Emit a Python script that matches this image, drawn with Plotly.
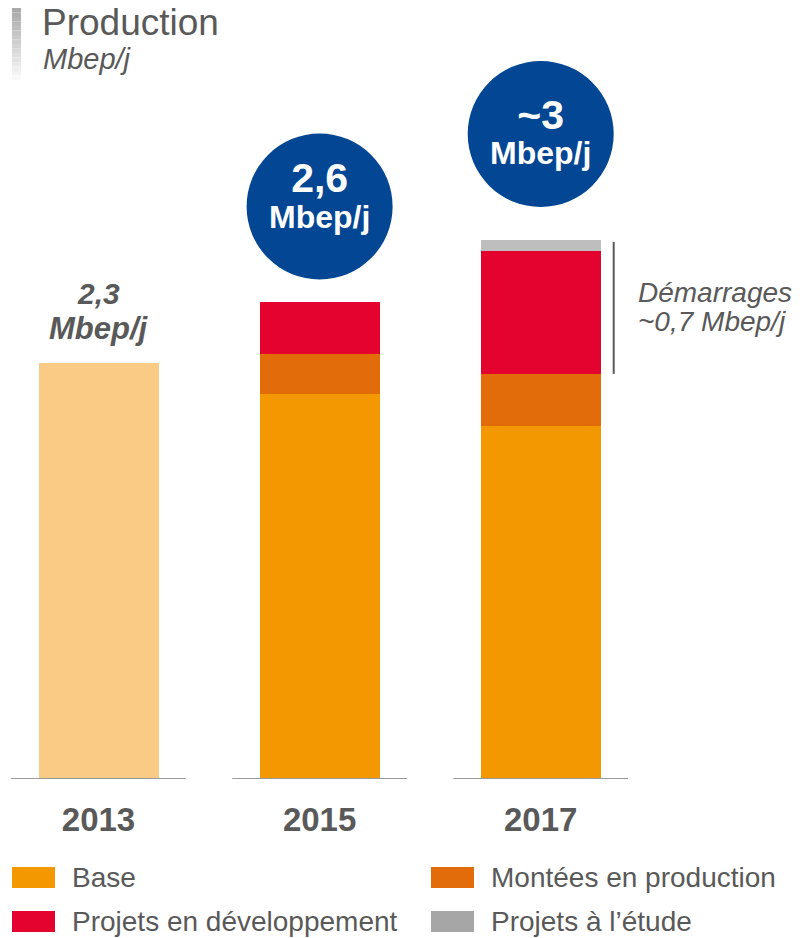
import plotly.graph_objects as go

# ---------------- data ----------------
years = ["2013", "2015", "2017"]
base = [2.30, 2.13, 1.95]
montees = [0.0, 0.22, 0.29]
developpement = [0.0, 0.29, 0.68]
etude = [0.0, 0.0, 0.06]
circle_values = ["", "2,6", "~3"]
label_2013 = "2,3"
unit = "Mbep/j"
demarrages_text = ["Démarrages", "~0,7 Mbep/j"]
legend_names = ["Base", "Montées en production", "Projets en développement", "Projets à l’étude"]

# ---------------- styles ----------------
W, H = 802, 938
PLOT_H = 779            # px height of plot area (baseline at y=779)
C_BASE = "#F39800"
C_BASE_2013 = "#F9CB85"
C_MONTEES = "#E36C0A"
C_DEV = "#E4032E"
C_ETUDE = "#BEBEBE"
C_ETUDE_LEG = "#A6A6A6"
C_BLUE = "#034694"
C_TEXT = "#595959"
FONT = "Liberation Sans, Arial, sans-serif"

PX_PER_UNIT_Y = 180.87
PX_PER_UNIT_X = 221.1
X0_PX = 98.5
xs = list(range(len(years)))
bar_w = 120 / PX_PER_UNIT_X

def px_x(px):
    return px / W

def px_y(py):
    return (PLOT_H - py) / PLOT_H

fig = go.Figure()
base_colors = [C_BASE_2013] + [C_BASE] * (len(years) - 1)
fig.add_trace(go.Bar(x=xs, y=base, marker_color=base_colors, name=legend_names[0], width=bar_w))
fig.add_trace(go.Bar(x=xs, y=montees, marker_color=C_MONTEES, name=legend_names[1], width=bar_w))
fig.add_trace(go.Bar(x=xs, y=developpement, marker_color=C_DEV, name=legend_names[2], width=bar_w))
fig.add_trace(go.Bar(x=xs, y=etude, marker_color=C_ETUDE, name=legend_names[3], width=bar_w))
fig.update_traces(marker_line_width=0, showlegend=False, hoverinfo="skip")

totals = [b + m + d + e for b, m, d, e in zip(base, montees, developpement, etude)]

shapes = []
annotations = []

# baseline segments under each bar
for x in xs:
    shapes.append(dict(type="line", xref="x", yref="y", x0=x - 0.395, x1=x + 0.395, y0=0, y1=0,
                       line=dict(color="#9A9A9A", width=2)))

# circles with totals for 2015 / 2017
# (circle centre offset above bar top, text-block shift inside circle, line-spacing base font)
circle_offsets = [None, 95, 106]
text_shift = [None, 12, 3]
line_font = [None, 28, 27]
for x, t, val, off, ts, lf in zip(xs, totals, circle_values, circle_offsets, text_shift, line_font):
    if not val:
        continue
    shapes.append(dict(type="circle", xref="x", yref="y", xsizemode="pixel", ysizemode="pixel",
                       xanchor=x, yanchor=t, x0=-73, x1=73, y0=off - 73, y1=off + 73,
                       fillcolor=C_BLUE, line=dict(width=0), layer="above"))
    annotations.append(dict(
        x=x, y=t, xref="x", yref="y", yshift=off + ts,
        text=(f"<b><span style='font-size:41px'>{val}</span><br>"
              f"<span style='font-size:32px'>{unit}</span></b>"),
        showarrow=False, font=dict(family=FONT, size=lf, color="white"),
        yanchor="middle", align="center"))

# 2013 label
annotations.append(dict(x=xs[0], y=totals[0], xref="x", yref="y", yshift=70,
                        text=f"<b><i>{label_2013}</i></b>", showarrow=False,
                        yanchor="middle", font=dict(family=FONT, size=30, color=C_TEXT)))
annotations.append(dict(x=xs[0], y=totals[0], xref="x", yref="y", yshift=35,
                        text=f"<b><i>{unit}</i></b>", showarrow=False,
                        yanchor="middle", font=dict(family=FONT, size=31, color=C_TEXT)))

# Démarrages bracket
last = xs[-1]
y_lo = base[-1] + montees[-1]
shapes.append(dict(type="line", xref="x", yref="y", xsizemode="pixel", xanchor=last,
                   x0=73, x1=73, y0=y_lo, y1=totals[-1] - 0.01,
                   line=dict(color=C_TEXT, width=2)))
for txt, py in zip(demarrages_text, [292, 322]):
    annotations.append(dict(x=px_x(636), y=px_y(py), xref="paper", yref="paper",
                            text=f"<i>{txt}</i>", showarrow=False, xanchor="left",
                            yanchor="middle", font=dict(family=FONT, size=28, color=C_TEXT)))

# title with gradient bar
steps = 16
top, bottom = 8, 80
for i in range(steps):
    a = 1 - i / steps
    g = int(255 - (255 - 170) * a)
    shapes.append(dict(type="rect", xref="paper", yref="paper",
                       x0=px_x(12), x1=px_x(21),
                       y0=px_y(top + (bottom - top) * (i + 1) / steps),
                       y1=px_y(top + (bottom - top) * i / steps),
                       fillcolor=f"rgb({g},{g},{g})", line=dict(width=0)))
annotations.append(dict(x=px_x(40), y=px_y(23), xref="paper", yref="paper", text="Production",
                        showarrow=False, xanchor="left", yanchor="middle",
                        font=dict(family=FONT, size=37, color=C_TEXT)))
annotations.append(dict(x=px_x(41), y=px_y(59), xref="paper", yref="paper", text=f"<i>{unit}</i>",
                        showarrow=False, xanchor="left", yanchor="middle",
                        font=dict(family=FONT, size=29, color=C_TEXT)))

# manual legend (2 columns)
leg_colors = [C_BASE, C_MONTEES, C_DEV, C_ETUDE_LEG]
leg_pos = [(12, 877), (431, 877), (12, 921), (431, 921)]
for name, col, (lx, ly) in zip(legend_names, leg_colors, leg_pos):
    shapes.append(dict(type="rect", xref="paper", yref="paper",
                       x0=px_x(lx), x1=px_x(lx + 43), y0=px_y(ly + 11), y1=px_y(ly - 10),
                       fillcolor=col, line=dict(width=0)))
    annotations.append(dict(x=px_x(lx + 58), y=px_y(ly), xref="paper", yref="paper", text=name,
                            showarrow=False, xanchor="left", yanchor="middle",
                            font=dict(family=FONT, size=28, color=C_TEXT)))

fig.update_layout(
    width=W, height=H, barmode="stack",
    margin=dict(l=0, r=0, t=0, b=H - PLOT_H, pad=0),
    paper_bgcolor="white", plot_bgcolor="white",
    xaxis=dict(range=[-X0_PX / PX_PER_UNIT_X, (W - X0_PX) / PX_PER_UNIT_X],
               tickvals=xs, ticktext=[f"<b>{y}</b>" for y in years],
               tickfont=dict(family=FONT, size=33, color=C_TEXT),
               showgrid=False, zeroline=False, showline=False,
               ticks="outside", ticklen=11, tickcolor="rgba(0,0,0,0)", fixedrange=True),
    yaxis=dict(range=[0, PLOT_H / PX_PER_UNIT_Y], visible=False, fixedrange=True),
    shapes=shapes, annotations=annotations, showlegend=False,
)

fig.write_html("out.html", config={"displayModeBar": False},
               post_script="document.body.style.margin='0';document.body.style.overflow='hidden';")
